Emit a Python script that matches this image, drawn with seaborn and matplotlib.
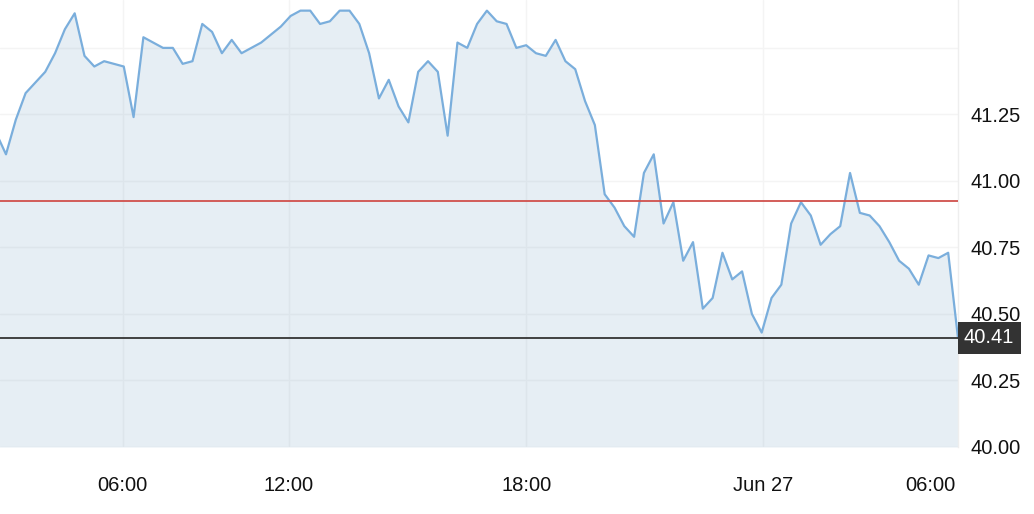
import numpy as np
import pandas as pd
import seaborn as sns
import matplotlib.pyplot as plt
import matplotlib.transforms as mtransforms

# price readings, one per sample
prices = [41.18, 41.10, 41.23, 41.33, 41.37, 41.41, 41.48, 41.57, 41.63, 41.47,
          41.43, 41.45, 41.44, 41.43, 41.24, 41.54, 41.52, 41.50, 41.50, 41.44,
          41.45, 41.59, 41.56, 41.48, 41.53, 41.48, 41.50, 41.52, 41.55, 41.58,
          41.62, 41.64, 41.64, 41.59, 41.60, 41.64, 41.64, 41.59, 41.48, 41.31,
          41.38, 41.28, 41.22, 41.41, 41.45, 41.41, 41.17, 41.52, 41.50, 41.59,
          41.64, 41.60, 41.59, 41.50, 41.51, 41.48, 41.47, 41.53, 41.45, 41.42,
          41.30, 41.21, 40.95, 40.90, 40.83, 40.79, 41.03, 41.10, 40.84, 40.92,
          40.70, 40.77, 40.52, 40.56, 40.73, 40.63, 40.66, 40.50, 40.43, 40.56,
          40.61, 40.84, 40.92, 40.87, 40.76, 40.80, 40.83, 41.03, 40.88, 40.87,
          40.83, 40.77, 40.70, 40.67, 40.61, 40.72, 40.71, 40.73, 40.41]

tick_pos = [12.9, 29.8, 54.0, 78.1, 95.2]
tick_labels = ["06:00", "12:00", "18:00", "Jun 27", "06:00"]
y_ticks = [40.00, 40.25, 40.50, 40.75, 41.00, 41.25, 41.50]
y_labels = ["40.00", "40.25", "40.50", "40.75", "41.00", "41.25", ""]

ref_level = 40.925  # red reference line
last_price = prices[-1]

df = pd.DataFrame({"idx": np.arange(len(prices)), "price": prices})

sns.set_theme(style="white")
plt.rcParams["font.family"] = ["Liberation Sans", "DejaVu Sans"]

fig = plt.figure(figsize=(10.34, 5.14), dpi=100)
ax = fig.add_axes([0, 67 / 514, 958 / 1034, 447 / 514])

line_col = "#7aaedc"
ax.fill_between(df["idx"], df["price"], 40.0, color="#82aac8", alpha=0.2, lw=0, zorder=2)
sns.lineplot(data=df, x="idx", y="price", ax=ax, color=line_col, lw=1.6, zorder=3)

ax.axhline(ref_level, color="#d0504c", lw=1.3, zorder=4)
ax.axhline(last_price, color="#333333", lw=1.3, zorder=4)

ax.set_xlim(0.39, len(prices) - 1)
ax.set_ylim(40.0, 41.68)

ax.set_xticks(tick_pos)
ax.set_xticklabels(tick_labels)
ax.set_yticks(y_ticks)
ax.set_yticklabels(y_labels)
ax.yaxis.tick_right()
ax.tick_params(axis="x", length=0, pad=21, labelsize=14.5, colors="#111111")
ax.tick_params(axis="y", length=0, pad=9, labelsize=14.5, colors="#111111")
ax.set_xlabel("")
ax.set_ylabel("")

ax.grid(True, color="#f4f4f4", lw=1)
ax.set_axisbelow(True)
# last 06:00 tick has no grid line in the original
ax.xaxis.get_major_ticks()[-1].gridline.set_visible(False)
for side in ["top", "left", "bottom"]:
    ax.spines[side].set_visible(False)
ax.spines["right"].set_color("#eeeeee")
ax.spines["right"].set_linewidth(1)

# price tag on the right axis
trans = mtransforms.blended_transform_factory(ax.transAxes, ax.transData)
ax.text(1.0 + 6 / 958, last_price, f"{last_price:.2f}", transform=trans,
        ha="left", va="center", fontsize=14.5, color="white", zorder=6,
        bbox=dict(boxstyle="square,pad=0.32", fc="#333333", ec="none"),
        clip_on=False)

fig.savefig("out.png", dpi=100)
